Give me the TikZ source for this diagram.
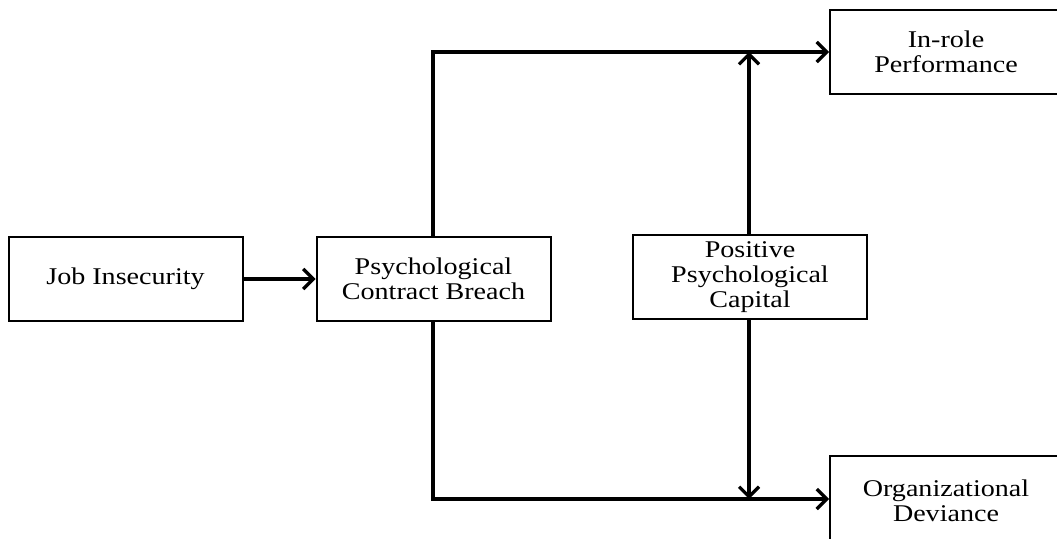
\documentclass[tikz,border=0pt]{standalone}
\usepackage{fontspec}
\setmainfont[FakeStretch=1.17]{Liberation Serif}
\usetikzlibrary{arrows.meta}
\begin{document}
\begin{tikzpicture}[x=1pt,y=-1pt,
  box/.style={draw,line width=2pt,minimum width=234pt,minimum height=84pt,inner sep=0pt,
    align=center,font=\fontsize{24}{25}\selectfont},
  conn/.style={line width=3.2pt},
  arr/.style={conn,-{Straight Barb[length=10pt,width=20pt]}}]
\path[use as bounding box,clip] (0,0) rectangle (1057,538);
\fill[white] (0,0) rectangle (1057,538);
\node[box] (job) at (125.5,279) {Job Insecurity};
\node[box] (pcb) at (433.5,279) {Psychological\\Contract Breach};
\node[box] (ppc) at (750,277) {Positive\\Psychological\\Capital};
\node[box,minimum width=232pt] (irp) at (946,52) {In-role\\Performance};
\node[box,minimum width=232pt,minimum height=90pt] (od) at (946,501) {Organizational\\Deviance};
\coordinate (tl) at (433,52);
\coordinate (bl) at (433,499);
\coordinate (tj) at (749,52);
\coordinate (bj) at (749,499);
\draw[arr] (job.east) -- (pcb.west);
\draw[arr] (pcb.north -| tl) -- (tl) -- (irp.west |- tl);
\draw[arr] (pcb.south -| bl) -- (bl) -- (od.west |- bl);
\draw[arr] (ppc.north -| tj) -- (tj);
\draw[arr] (ppc.south -| bj) -- (bj);
\end{tikzpicture}
\end{document}
